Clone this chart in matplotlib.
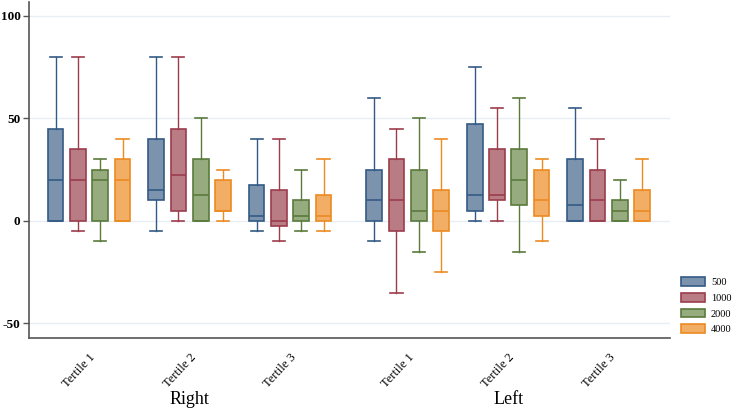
import matplotlib
matplotlib.use("Agg")
import matplotlib.pyplot as plt
from matplotlib.patches import Patch
import numpy as np

plt.rcParams['font.family'] = ['Liberation Serif', 'DejaVu Serif']

# groups along x
sides = ["Right", "Left"]
tertiles = ["Tertile 1", "Tertile 2", "Tertile 3"]
freqs = ["500", "1000", "2000", "4000"]

# per box: [whislo, q1, median, q3, whishi], order: side -> tertile -> freq
right_t1 = [[0, 0, 20, 45, 80], [-5, 0, 20, 35, 80], [-10, 0, 20, 25, 30], [0, 0, 20, 30, 40]]
right_t2 = [[-5, 10, 15, 40, 80], [0, 5, 22.5, 45, 80], [0, 0, 12.5, 30, 50], [0, 5, 5, 20, 25]]
right_t3 = [[-5, 0, 2.5, 17.5, 40], [-10, -2.5, 0, 15, 40], [-5, 0, 2.5, 10, 25], [-5, 0, 2.5, 12.5, 30]]
left_t1 = [[-10, 0, 10, 25, 60], [-35, -5, 10, 30, 45], [-15, 0, 5, 25, 50], [-25, -5, 5, 15, 40]]
left_t2 = [[0, 5, 12.5, 47.5, 75], [0, 10, 12.5, 35, 55], [-15, 7.5, 20, 35, 60], [-10, 2.5, 10, 25, 30]]
left_t3 = [[0, 0, 7.5, 30, 55], [0, 0, 10, 25, 40], [0, 0, 5, 10, 20], [0, 0, 5, 15, 30]]

all_groups = [right_t1, right_t2, right_t3, left_t1, left_t2, left_t3]

face_cols = ["#7b93ad", "#b97c85", "#96ab7e", "#f1ae64"]
edge_cols = ["#335a85", "#9c3d4c", "#5b7a3c", "#ec8b22"]

group_x = np.array([0, 1, 2, 3.17, 4.17, 5.17])
offs = np.array([-1.5, -0.5, 0.5, 1.5]) * 0.222
bw = 0.156

fig = plt.figure(figsize=(7.37, 4.11), dpi=100)
ax = fig.add_axes([0.039, 0.178, 0.870, 0.817])

for g, grp in enumerate(all_groups):
    for k, vals in enumerate(grp):
        st = dict(whislo=vals[0], q1=vals[1], med=vals[2], q3=vals[3], whishi=vals[4], fliers=[])
        ec = edge_cols[k]
        ax.bxp([st], positions=[group_x[g] + offs[k]], widths=bw, patch_artist=True,
               showfliers=False, capwidths=0.12,
               boxprops=dict(facecolor=face_cols[k], edgecolor=ec, linewidth=1.2),
               medianprops=dict(color=ec, linewidth=1.2),
               whiskerprops=dict(color=ec, linewidth=1.0),
               capprops=dict(color=ec, linewidth=1.2))

ax.set_xlim(-0.60, 5.78)
ax.set_ylim(-57.1, 106.8)
ax.set_yticks([-50, 0, 50, 100])
ax.set_yticklabels(["-50", "0", "50", "100"], fontsize=9.5, fontweight='bold')
for yv in [-50, 0, 50, 100]:
    ax.axhline(yv, color="#e9eef5", linewidth=1.0, zorder=0)

ax.set_xticks(group_x)
ax.set_xticklabels(tertiles * 2, rotation=47, ha='right', rotation_mode='anchor', fontsize=9)
ax.tick_params(axis='x', length=0, pad=10)
ax.tick_params(axis='y', length=4, width=1, color="#555555", pad=2)

for s in ['top', 'right']:
    ax.spines[s].set_visible(False)
for s in ['left', 'bottom']:
    ax.spines[s].set_color("#555555")
    ax.spines[s].set_linewidth(1.2)

# side labels
ax.text(np.mean(group_x[:3]), -0.185, sides[0], transform=ax.get_xaxis_transform(),
        ha='center', va='center', fontsize=13)
ax.text(np.mean(group_x[3:]), -0.185, sides[1], transform=ax.get_xaxis_transform(),
        ha='center', va='center', fontsize=13)

handles = [Patch(facecolor=face_cols[k], edgecolor=edge_cols[k], linewidth=1.2, label=freqs[k])
           for k in range(4)]
fig.legend(handles=handles, loc='upper left', bbox_to_anchor=(0.918, 0.335), frameon=False,
           fontsize=7.5, handlelength=2.3, handleheight=0.9, labelspacing=0.55, handletextpad=0.6,
           borderaxespad=0)

fig.savefig("out.png", dpi=100)
